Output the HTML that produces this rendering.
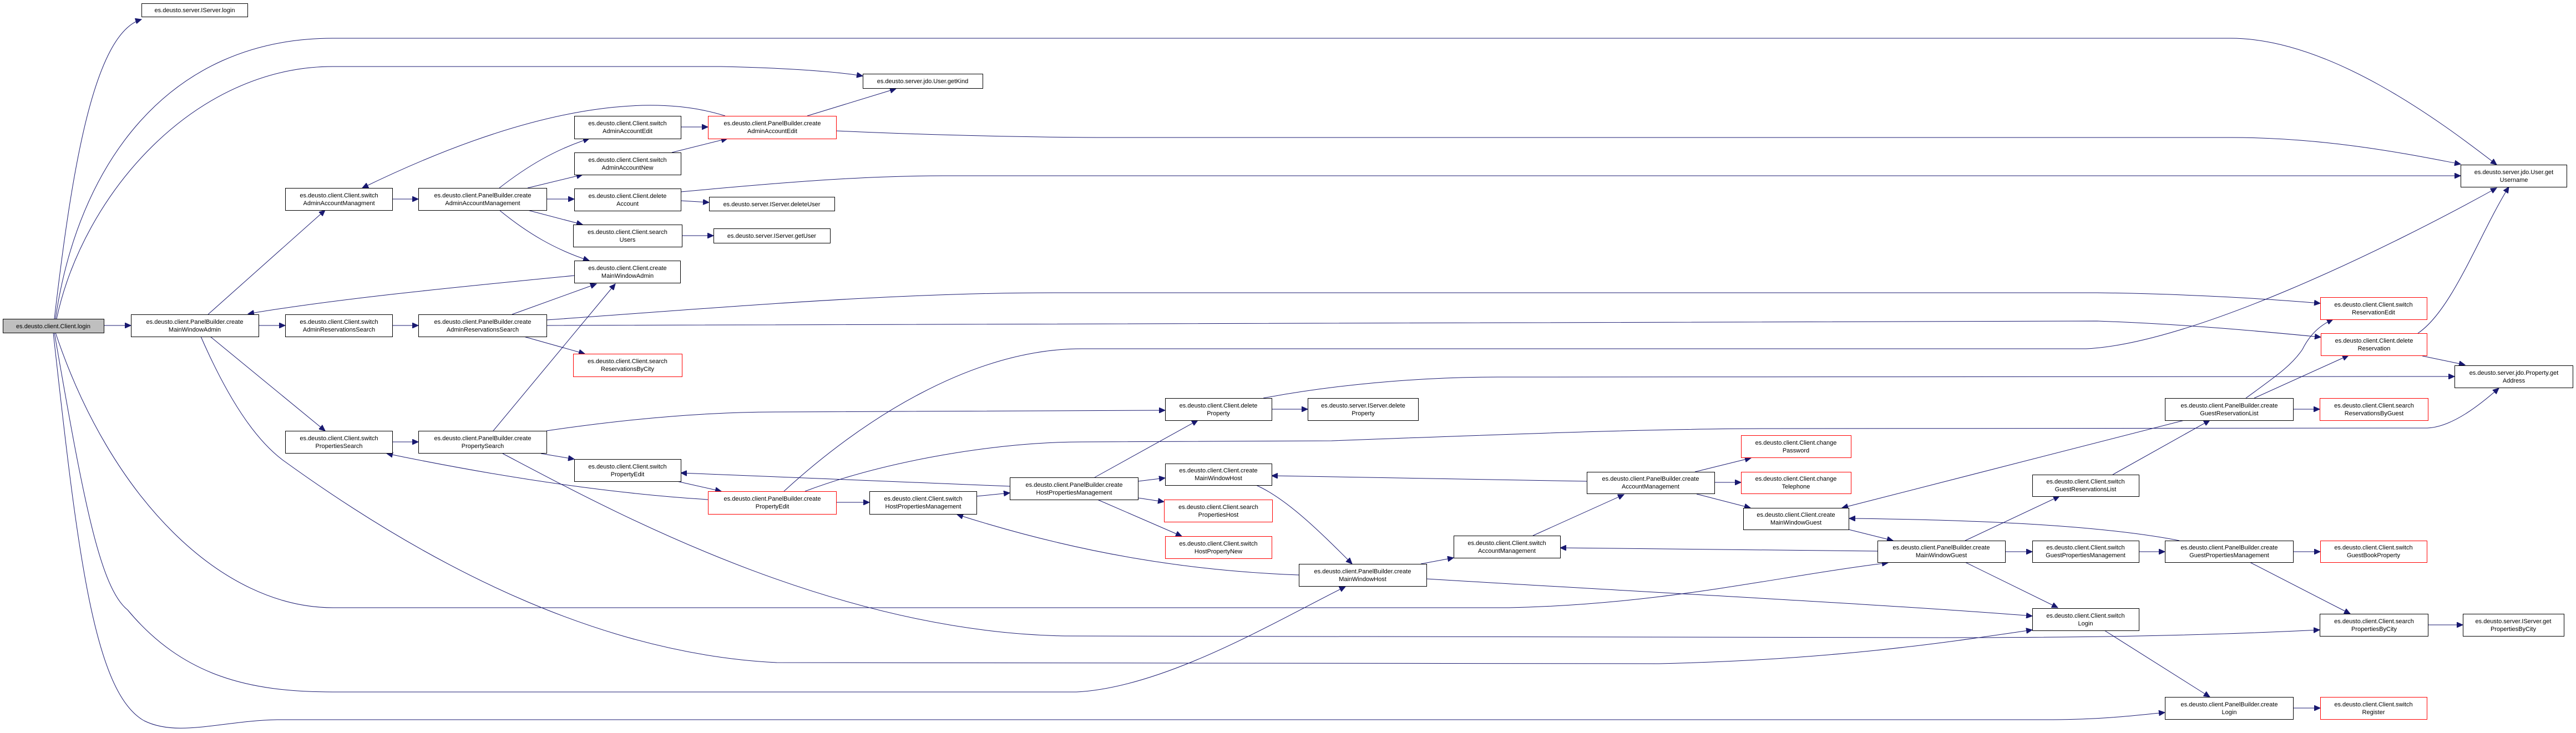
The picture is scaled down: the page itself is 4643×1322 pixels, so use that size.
<!DOCTYPE html>
<html><head><meta charset="utf-8"><style>
html,body{margin:0;padding:0;background:#fff;}
svg{display:block;}
text{font-family:"Liberation Sans",sans-serif;font-size:11px;fill:#000;text-anchor:middle;}
path{fill:none;stroke:#191970;stroke-width:1;}
</style></head><body>
<svg width="4643" height="1322" viewBox="0 0 4643 1322" xmlns="http://www.w3.org/2000/svg">
<defs>
<marker id="a" markerUnits="userSpaceOnUse" markerWidth="12" markerHeight="10" refX="11" refY="5" orient="auto">
<path d="M0,0 L11,5 L0,10 Z" style="fill:#191970;stroke:#191970"/>
</marker>
</defs>
<g marker-end="url(#a)">
<!-- login edges -->
<path d="M98 575 C130 300,170 60,255 35"/>
<path d="M100 575 C140 300,300 69,600 69 L4020 69 C4200 69,4400 220,4500 297"/>
<path d="M102 575 C150 350,350 120,600 120 L1300 120 C1400 122,1500 128,1555 137"/>
<path d="M187 587 L236 587"/>
<path d="M100 600 C200 900,400 1096,600 1096 L2720 1096 C3000 1090,3200 1040,3403 1015"/>
<path d="M98 600 C150 900,180 1060,230 1100 C330 1220,450 1248,600 1248 L1940 1248 C2100 1240,2300 1120,2425 1058"/>
<path d="M96 600 C140 1000,170 1250,260 1300 C320 1330,400 1300,500 1298 L3700 1298 C3800 1297,3850 1290,3902 1285"/>
<!-- admin -->
<path d="M375 567 L586 379"/>
<path d="M466 587 L514 587"/>
<path d="M379 607 L586 777"/>
<path d="M1035 497 C800 520,600 540,447 566"/>
<path d="M707 359 L754 359"/>
<path d="M900 339 C950 300,1000 270,1062 250"/>
<path d="M951 339 L1050 315"/>
<path d="M985 359 L1035 359"/>
<path d="M951 379 L1050 405"/>
<path d="M900 379 C950 420,1000 450,1062 470"/>
<path d="M1227 229 L1276 229"/>
<path d="M1211 275 L1311 250"/>
<path d="M1307 209 C1200 175,1000 170,653 339"/>
<path d="M1455 209 L1615 160"/>
<path d="M1227 362 L1278 365"/>
<path d="M1229 425 L1286 425"/>
<path d="M923 567 L1075 512"/>
<path d="M944 607 L1054 638"/>
<path d="M707 587 L754 587"/>
<path d="M889 777 L1109 512"/>
<path d="M707 797 L754 797"/>
<path d="M362 607 C420 740,470 800,510 830 C800 1040,1100 1180,1400 1195 L2990 1197 C3300 1190,3500 1160,3663 1136"/>
<path d="M906 818 C1100 920,1500 1140,1920 1147 L3500 1150 C3800 1150,4000 1145,4181 1136"/>
<path d="M1507 236 C1700 245,1900 248,2000 248 L4020 248 C4200 248,4350 280,4435 296"/>
<path d="M1227 346 C1400 330,1550 317,1700 317 L4435 317"/>
<path d="M985 577 C1300 555,1600 528,1900 528 L3780 528 C3950 530,4100 540,4182 547"/>
<path d="M985 587 L3780 579 C3950 585,4100 600,4183 608"/>
<path d="M1413 886 C1550 760,1750 629,1950 629 L3760 629 C3950 620,4300 450,4500 339"/>
<path d="M2277 718 C2400 695,2550 680,2700 680 L4424 679"/>
<path d="M1451 886 C1600 830,1800 797,1950 797 L2400 795 C2800 780,3000 773,3200 773 L4375 772 C4420 770,4470 730,4504 700"/>
<path d="M985 777 C1100 760,1250 743,1400 743 L2100 740"/>
<!-- property / host -->
<path d="M1820 877 L1227 853"/>
<path d="M1220 868 L1300 886"/>
<path d="M975 818 L1035 828"/>
<path d="M1276 901 C1100 890,900 860,697 818"/>
<path d="M1507 906 L1567 906"/>
<path d="M1760 895 L1820 889"/>
<path d="M1973 861 L2159 758"/>
<path d="M2051 868 L2100 862"/>
<path d="M2051 898 L2098 905"/>
<path d="M1978 901 L2130 967"/>
<path d="M2292 738 L2357 738"/>
<path d="M2264 875 C2320 900,2380 960,2437 1017"/>
<path d="M2341 1037 C2150 1030,1950 1000,1725 928"/>
<path d="M2571 1044 C3000 1070,3400 1090,3663 1111"/>
<path d="M2561 1017 L2620 1006"/>
<path d="M2763 966 L2927 892"/>
<path d="M3055 851 L3156 826"/>
<path d="M3090 870 L3138 870"/>
<path d="M3058 891 L3155 916"/>
<path d="M2860 868 L2292 858"/>
<path d="M3384 994 L2812 988"/>
<path d="M3332 955 L3412 975"/>
<!-- guest -->
<path d="M3542 1014 L3709 1096"/>
<path d="M3542 975 L3712 895"/>
<path d="M3614 995 L3663 995"/>
<path d="M3855 995 L3902 995"/>
<path d="M4133 995 L4182 995"/>
<path d="M4055 1014 L4236 1107"/>
<path d="M3928 975 C3800 950,3600 938,3333 935"/>
<path d="M3808 856 L3983 758"/>
<path d="M4133 738 L4181 738"/>
<path d="M4048 718 C4100 680,4130 660,4150 630 C4165 600,4185 585,4205 576"/>
<path d="M4063 718 L4233 641"/>
<path d="M3937 758 L3320 916"/>
<path d="M4358 601 C4420 560,4470 420,4522 337"/>
<path d="M4366 642 L4443 658"/>
<path d="M3793 1137 L3983 1257"/>
<path d="M4133 1277 L4182 1277"/>
<path d="M4376 1127 L4439 1127"/>
</g>
<g style="fill:#fff;stroke:#000;stroke-width:1">
<rect x="5.5" y="575.5" width="182" height="25" style="fill:#bfbfbf"/>
<rect x="255.5" y="6.5" width="191" height="24"/>
<rect x="236.5" y="567.5" width="230" height="40"/>
<rect x="514.5" y="339.5" width="193" height="40"/>
<rect x="754.5" y="339.5" width="231" height="40"/>
<rect x="1035.5" y="209.5" width="192" height="41"/>
<rect x="1035.5" y="275.5" width="192" height="40"/>
<rect x="1035.5" y="340.5" width="192" height="40"/>
<rect x="1033.5" y="405.5" width="196" height="40"/>
<rect x="1035.5" y="470.5" width="191" height="40"/>
<rect x="514.5" y="567.5" width="193" height="40"/>
<rect x="754.5" y="567.5" width="231" height="40"/>
<rect x="1033.5" y="638.5" width="196" height="41" style="stroke:#f00"/>
<rect x="514.5" y="777.5" width="193" height="40"/>
<rect x="754.5" y="777.5" width="231" height="40"/>
<rect x="1035.5" y="828.5" width="192" height="40"/>
<rect x="1555.5" y="133.5" width="216" height="26"/>
<rect x="1276.5" y="209.5" width="231" height="41" style="stroke:#f00"/>
<rect x="1278.5" y="355.5" width="226" height="25"/>
<rect x="1286.5" y="412.5" width="210" height="26"/>
<rect x="1276.5" y="886.5" width="231" height="41" style="stroke:#f00"/>
<rect x="1567.5" y="886.5" width="193" height="41"/>
<rect x="1820.5" y="861.5" width="231" height="40"/>
<rect x="2100.5" y="718.5" width="192" height="40"/>
<rect x="2100.5" y="836.5" width="192" height="39"/>
<rect x="2098.5" y="901.5" width="195" height="40" style="stroke:#f00"/>
<rect x="2100.5" y="967.5" width="192" height="40" style="stroke:#f00"/>
<rect x="2341.5" y="1017.5" width="230" height="40"/>
<rect x="2357.5" y="718.5" width="199" height="40"/>
<rect x="3138.5" y="785.5" width="198" height="40" style="stroke:#f00"/>
<rect x="3138.5" y="851.5" width="198" height="39" style="stroke:#f00"/>
<rect x="2860.5" y="851.5" width="230" height="39"/>
<rect x="3142.5" y="916.5" width="190" height="39"/>
<rect x="2620.5" y="966.5" width="192" height="40"/>
<rect x="3384.5" y="975.5" width="230" height="39"/>
<rect x="4435.5" y="297.5" width="191" height="40"/>
<rect x="4182.5" y="536.5" width="192" height="40" style="stroke:#f00"/>
<rect x="4183.5" y="601.5" width="191" height="40" style="stroke:#f00"/>
<rect x="4424.5" y="659.5" width="213" height="40"/>
<rect x="3902.5" y="718.5" width="231" height="40"/>
<rect x="4181.5" y="718.5" width="195" height="40" style="stroke:#f00"/>
<rect x="3663.5" y="856.5" width="192" height="39"/>
<rect x="3663.5" y="975.5" width="192" height="39"/>
<rect x="3902.5" y="975.5" width="231" height="39"/>
<rect x="4182.5" y="975.5" width="192" height="39" style="stroke:#f00"/>
<rect x="3663.5" y="1097.5" width="192" height="40"/>
<rect x="4181.5" y="1107.5" width="195" height="40"/>
<rect x="4439.5" y="1107.5" width="182" height="40"/>
<rect x="3902.5" y="1257.5" width="231" height="40"/>
<rect x="4182.5" y="1257.5" width="192" height="40" style="stroke:#f00"/>
</g>
<g>
<text x="96" y="592">es.deusto.client.Client.login</text>
<text x="351" y="22">es.deusto.server.IServer.login</text>
<text x="351" y="584">es.deusto.client.PanelBuilder.create</text><text x="351" y="598">MainWindowAdmin</text>
<text x="611" y="356">es.deusto.client.Client.switch</text><text x="611" y="370">AdminAccountManagment</text>
<text x="870" y="356">es.deusto.client.PanelBuilder.create</text><text x="870" y="370">AdminAccountManagement</text>
<text x="1131" y="226">es.deusto.client.Client.switch</text><text x="1131" y="240">AdminAccountEdit</text>
<text x="1131" y="292">es.deusto.client.Client.switch</text><text x="1131" y="306">AdminAccountNew</text>
<text x="1131" y="357">es.deusto.client.Client.delete</text><text x="1131" y="371">Account</text>
<text x="1131" y="422">es.deusto.client.Client.search</text><text x="1131" y="436">Users</text>
<text x="1131" y="487">es.deusto.client.Client.create</text><text x="1131" y="501">MainWindowAdmin</text>
<text x="611" y="584">es.deusto.client.Client.switch</text><text x="611" y="598">AdminReservationsSearch</text>
<text x="870" y="584">es.deusto.client.PanelBuilder.create</text><text x="870" y="598">AdminReservationsSearch</text>
<text x="1131" y="655">es.deusto.client.Client.search</text><text x="1131" y="669">ReservationsByCity</text>
<text x="611" y="794">es.deusto.client.Client.switch</text><text x="611" y="808">PropertiesSearch</text>
<text x="870" y="794">es.deusto.client.PanelBuilder.create</text><text x="870" y="808">PropertySearch</text>
<text x="1131" y="845">es.deusto.client.Client.switch</text><text x="1131" y="859">PropertyEdit</text>
<text x="1663" y="150">es.deusto.server.jdo.User.getKind</text>
<text x="1392" y="226">es.deusto.client.PanelBuilder.create</text><text x="1392" y="240">AdminAccountEdit</text>
<text x="1391" y="372">es.deusto.server.IServer.deleteUser</text>
<text x="1391" y="429">es.deusto.server.IServer.getUser</text>
<text x="1392" y="903">es.deusto.client.PanelBuilder.create</text><text x="1392" y="917">PropertyEdit</text>
<text x="1664" y="903">es.deusto.client.Client.switch</text><text x="1664" y="917">HostPropertiesManagement</text>
<text x="1936" y="878">es.deusto.client.PanelBuilder.create</text><text x="1936" y="892">HostPropertiesManagement</text>
<text x="2196" y="735">es.deusto.client.Client.delete</text><text x="2196" y="749">Property</text>
<text x="2196" y="852">es.deusto.client.Client.create</text><text x="2196" y="866">MainWindowHost</text>
<text x="2196" y="918">es.deusto.client.Client.search</text><text x="2196" y="932">PropertiesHost</text>
<text x="2196" y="984">es.deusto.client.Client.switch</text><text x="2196" y="998">HostPropertyNew</text>
<text x="2456" y="1034">es.deusto.client.PanelBuilder.create</text><text x="2456" y="1048">MainWindowHost</text>
<text x="2457" y="735">es.deusto.server.IServer.delete</text><text x="2457" y="749">Property</text>
<text x="3237" y="802">es.deusto.client.Client.change</text><text x="3237" y="816">Password</text>
<text x="3237" y="867">es.deusto.client.Client.change</text><text x="3237" y="881">Telephone</text>
<text x="2975" y="867">es.deusto.client.PanelBuilder.create</text><text x="2975" y="881">AccountManagement</text>
<text x="3237" y="932">es.deusto.client.Client.create</text><text x="3237" y="946">MainWindowGuest</text>
<text x="2716" y="983">es.deusto.client.Client.switch</text><text x="2716" y="997">AccountManagement</text>
<text x="3499" y="991">es.deusto.client.PanelBuilder.create</text><text x="3499" y="1005">MainWindowGuest</text>
<text x="4531" y="314">es.deusto.server.jdo.User.get</text><text x="4531" y="328">Username</text>
<text x="4278" y="553">es.deusto.client.Client.switch</text><text x="4278" y="567">ReservationEdit</text>
<text x="4279" y="618">es.deusto.client.Client.delete</text><text x="4279" y="632">Reservation</text>
<text x="4531" y="676">es.deusto.server.jdo.Property.get</text><text x="4531" y="690">Address</text>
<text x="4018" y="735">es.deusto.client.PanelBuilder.create</text><text x="4018" y="749">GuestReservationList</text>
<text x="4279" y="735">es.deusto.client.Client.search</text><text x="4279" y="749">ReservationsByGuest</text>
<text x="3759" y="872">es.deusto.client.Client.switch</text><text x="3759" y="886">GuestReservationsList</text>
<text x="3759" y="991">es.deusto.client.Client.switch</text><text x="3759" y="1005">GuestPropertiesManagement</text>
<text x="4018" y="991">es.deusto.client.PanelBuilder.create</text><text x="4018" y="1005">GuestPropertiesManagement</text>
<text x="4278" y="991">es.deusto.client.Client.switch</text><text x="4278" y="1005">GuestBookProperty</text>
<text x="3759" y="1114">es.deusto.client.Client.switch</text><text x="3759" y="1128">Login</text>
<text x="4279" y="1124">es.deusto.client.Client.search</text><text x="4279" y="1138">PropertiesByCity</text>
<text x="4530" y="1124">es.deusto.server.IServer.get</text><text x="4530" y="1138">PropertiesByCity</text>
<text x="4018" y="1274">es.deusto.client.PanelBuilder.create</text><text x="4018" y="1288">Login</text>
<text x="4278" y="1274">es.deusto.client.Client.switch</text><text x="4278" y="1288">Register</text>
</g>
</svg>
</body></html>
